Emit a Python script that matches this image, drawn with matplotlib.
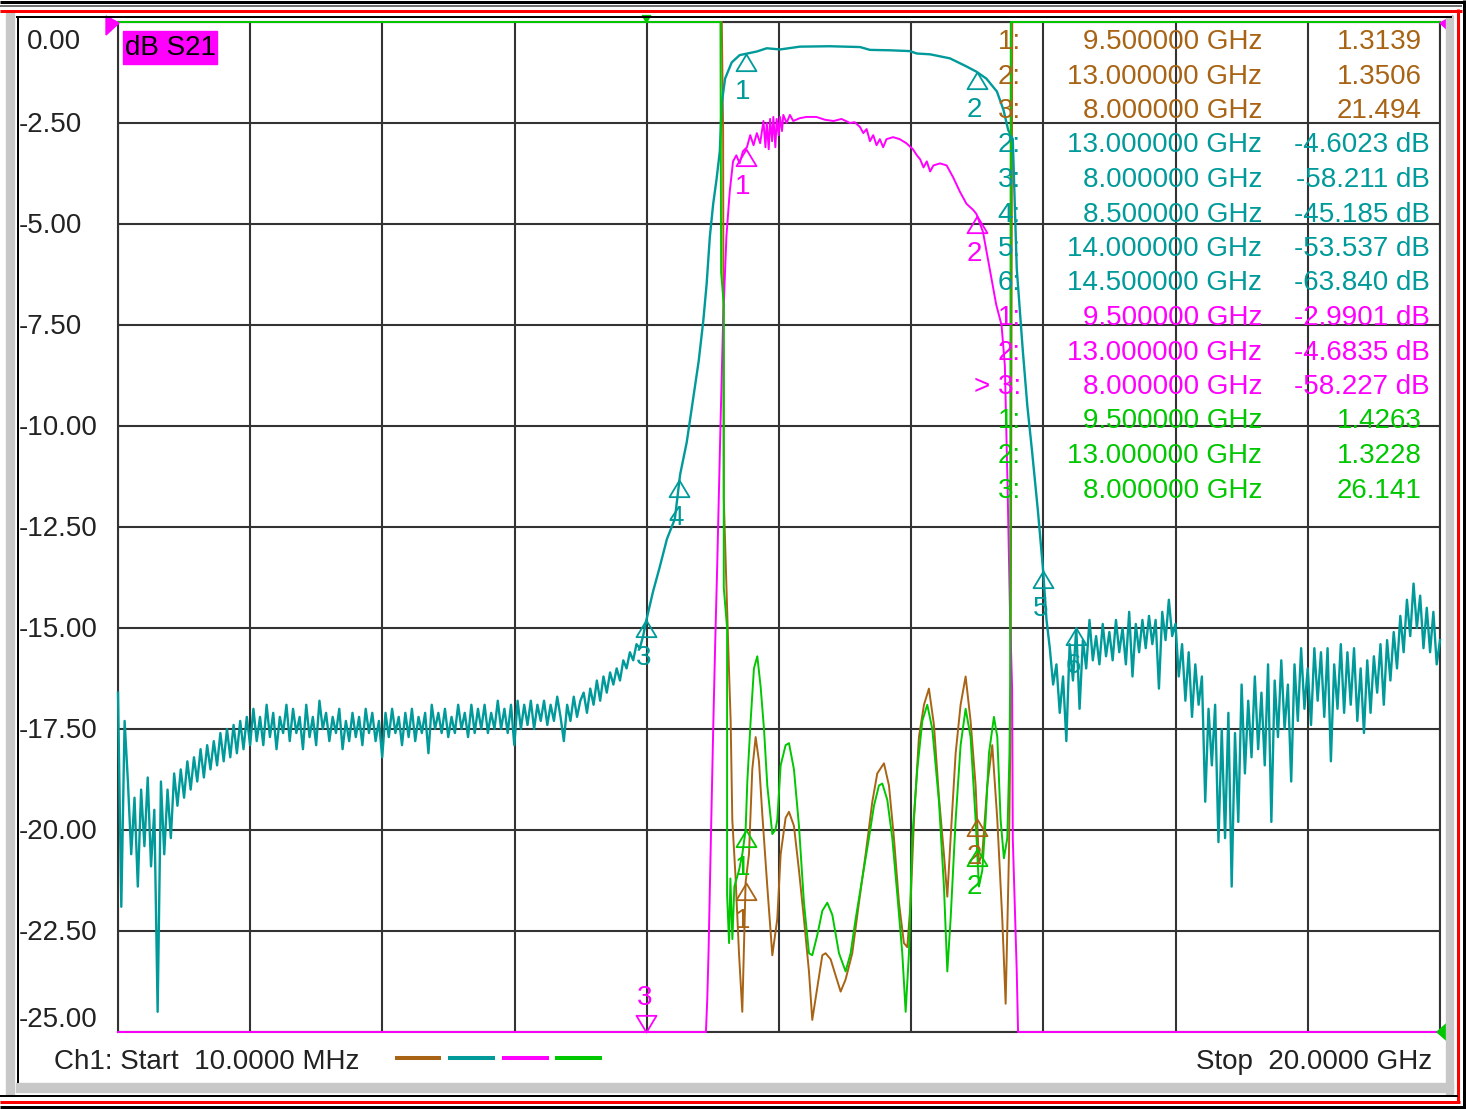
import numpy as np
import matplotlib
matplotlib.use('Agg')
import matplotlib.pyplot as plt
from matplotlib.path import Path
from matplotlib.patches import Rectangle, Polygon
from matplotlib.transforms import offset_copy

plt.rcParams['font.family'] = ['Liberation Sans', 'DejaVu Sans']

BROWN = '#a86414'
TEAL = '#009a9a'
PINK = '#ff00ff'
GREEN = '#00c800'
GRID = '#333333'
TXT = '#222222'

# sweep 10 MHz .. 20 GHz, everything in dB on the displayed scale (0 .. -25, 2.5/div)
f_start, f_stop = 0.01, 20.0
y_ticks = np.linspace(0, -25, 11)

# teal trace (S21 wide)
teal_left_f = np.linspace(0.01, 8.0, 161)
teal_left_db = [
    -16.6, -21.9, -17.3, -18.8, -20.6, -19.2, -21.4, -19.0, -20.4, -18.7,
    -20.9, -19.5, -24.5, -18.8, -20.6, -19.0, -20.2, -18.6, -19.4, -18.5,
    -19.2, -18.3, -19.0, -18.2, -18.8, -18.0, -18.7, -17.9, -18.5, -17.8,
    -18.4, -17.6, -18.3, -17.5, -18.2, -17.4, -18.1, -17.3, -18.0, -17.2,
    -17.9, -17.0, -17.8, -17.2, -17.9, -16.9, -17.7, -17.1, -18.0, -17.2,
    -17.6, -16.9, -17.8, -17.0, -17.6, -17.2, -18.0, -16.9, -17.7, -17.2,
    -17.9, -16.8, -17.5, -17.1, -17.8, -17.2, -17.6, -17.0, -18.0, -17.3,
    -17.8, -17.1, -17.7, -17.2, -17.9, -17.0, -17.6, -17.1, -17.8, -17.3,
    -18.2, -17.1, -17.7, -17.0, -17.6, -17.2, -17.9, -17.1, -17.7, -17.0,
    -17.8, -17.2, -17.6, -17.1, -18.1, -16.9, -17.5, -17.1, -17.6, -17.0,
    -17.7, -17.2, -17.6, -16.9, -17.5, -17.1, -17.7, -16.9, -17.6, -17.0,
    -17.5, -16.9, -17.6, -17.1, -17.5, -16.8, -17.5, -17.0, -17.6, -16.9,
    -17.9, -16.8, -17.5, -16.9, -17.4, -16.8, -17.5, -16.9, -17.3, -16.8,
    -17.4, -16.9, -17.3, -16.7, -17.2, -17.8, -16.9, -17.3, -16.7, -17.2,
    -16.8, -16.6, -17.1, -16.5, -16.9, -16.3, -16.8, -16.2, -16.6, -16.1,
    -16.4, -16.0, -16.3, -15.8, -16.0, -15.6, -15.8, -15.4, -15.5, -15.2,
    -14.8]
teal_mid_f = [8.10, 8.20, 8.31, 8.43, 8.51, 8.61, 8.70, 8.79, 8.86, 8.91,
              8.96, 9.01, 9.06, 9.11, 9.14, 9.19, 9.29, 9.41, 9.67, 9.82,
              10.02, 10.32, 10.77, 11.23, 11.38, 11.68, 11.98, 12.09, 12.29, 12.59,
              12.84, 12.99, 13.14, 13.30, 13.40, 13.47, 13.54, 13.57, 13.60, 13.69,
              13.76, 13.83, 13.92, 14.00, 14.05]
teal_mid_db = [-14.1, -13.5, -12.8, -12.3, -11.2, -10.4, -9.4, -8.4, -7.4, -6.5,
               -5.3, -4.5, -3.9, -3.2, -2.0, -1.4, -1.0, -0.82, -0.73, -0.65,
               -0.68, -0.61, -0.6, -0.62, -0.69, -0.7, -0.72, -0.78, -0.8, -0.9,
               -1.1, -1.23, -1.4, -1.72, -2.18, -2.67, -2.9, -4.5, -6.1, -8.1,
               -9.5, -10.6, -12.1, -13.6, -14.8]
teal_right_f = np.linspace(14.1, 20.0, 119)
teal_right_db = [
    -15.5, -16.4, -15.9, -17.1, -16.2, -17.8, -15.4, -16.3, -15.0, -17.0,
    -15.3, -16.0, -14.8, -15.8, -15.2, -15.9, -14.9, -15.7, -15.1, -15.8,
    -14.8, -15.6, -15.0, -15.9, -14.6, -16.2, -14.9, -15.6, -14.8, -15.5,
    -14.7, -15.4, -14.8, -16.5, -14.6, -15.3, -14.3, -15.2, -14.9, -16.2,
    -15.4, -16.8, -15.6, -17.2, -15.9, -16.9, -16.2, -19.3, -17.0, -18.4,
    -16.9, -20.3, -17.5, -20.2, -17.1, -21.4, -17.6, -19.8, -16.4, -18.6,
    -16.8, -18.2, -16.2, -18.0, -16.6, -18.4, -15.9, -19.8, -16.3, -17.7,
    -15.8, -17.5, -16.4, -18.8, -15.9, -17.3, -15.5, -17.0, -16.0, -17.4,
    -15.5, -16.8, -15.6, -17.2, -15.5, -18.3, -15.9, -17.0, -15.4, -17.1,
    -15.6, -16.9, -15.5, -17.3, -16.0, -17.6, -15.8, -17.1, -15.7, -16.6,
    -15.4, -16.9, -15.3, -16.3, -15.1, -16.0, -14.7, -15.6, -14.3, -15.2,
    -13.9, -15.0, -14.2, -15.5, -14.5, -15.6, -14.6, -15.9, -15.3]

# pink trace (S21 narrow), bottom of screen = clipped at -25
pink_f = [0.01, 8.90, 8.92, 8.94, 8.96, 9.01, 9.04, 9.07, 9.12, 9.16,
          9.21, 9.26, 9.31, 9.36, 9.41, 9.46, 9.52, 9.57, 9.62, 9.67,
          9.72, 9.77, 9.80, 9.82, 9.85, 9.87, 9.90, 9.92, 9.95, 9.97,
          10.00, 10.02, 10.05, 10.07, 10.12, 10.17, 10.22, 10.32, 10.42, 10.57,
          10.70, 10.83, 10.95, 11.08, 11.15, 11.23, 11.28, 11.33, 11.38, 11.43,
          11.48, 11.53, 11.58, 11.63, 11.73, 11.83, 11.93, 12.03, 12.09, 12.14,
          12.19, 12.24, 12.29, 12.34, 12.44, 12.54, 12.64, 12.74, 12.84, 12.94,
          12.99, 13.09, 13.19, 13.29, 13.37, 13.42, 13.46, 13.50, 13.53, 13.54,
          13.60, 13.62, 20.0]
pink_db = [-25.0, -25.0, -24.2, -23.0, -21.4, -17.5, -15.4, -13.5, -10.0, -7.4,
           -5.3, -4.2, -3.45, -3.3, -3.5, -3.2, -3.1, -2.8, -3.05, -2.75,
           -3.0, -2.45, -3.1, -2.5, -3.15, -2.4, -2.95, -2.35, -3.1, -2.4,
           -2.8, -2.35, -2.7, -2.3, -2.5, -2.3, -2.45, -2.38, -2.35, -2.35,
           -2.42, -2.45, -2.4, -2.5, -2.48, -2.6, -2.75, -2.65, -2.95, -2.8,
           -3.05, -2.9, -3.1, -2.9, -2.85, -2.9, -3.0, -3.15, -3.3, -3.4,
           -3.6, -3.45, -3.7, -3.55, -3.5, -3.55, -3.85, -4.2, -4.5, -4.65,
           -4.75, -5.2, -6.1, -7.0, -7.5, -8.5, -11.4, -14.8, -16.5, -20.2,
           -23.5, -25.0, -25.0]

# green trace (SWR), top of screen = clipped at 0
green_f = [0.01, 9.12, 9.13, 9.17, 9.17, 9.22, 9.22, 9.25, 9.27, 9.30,
           9.33, 9.40, 9.45, 9.50, 9.526, 9.576, 9.626, 9.677, 9.727, 9.778,
           9.828, 9.904, 9.95, 9.979, 10.03, 10.105, 10.156, 10.231, 10.307, 10.382,
           10.458, 10.508, 10.584, 10.66, 10.735, 10.811, 10.912, 11.012, 11.088, 11.164,
           11.264, 11.365, 11.441, 11.516, 11.567, 11.642, 11.718, 11.794, 11.869, 11.92,
           11.97, 12.02, 12.096, 12.172, 12.247, 12.323, 12.424, 12.499, 12.55, 12.6,
           12.676, 12.751, 12.827, 12.902, 12.978, 13.028, 13.079, 13.129, 13.18, 13.255,
           13.306, 13.356, 13.406, 13.457, 13.49, 13.50, 13.51, 20.0]
green_db = [0.0, 0.0, -6.2, -7.0, -14.0, -15.0, -21.6, -22.8, -21.2, -22.7,
            -21.4, -21.0, -20.6, -20.0, -18.8, -17.3, -16.0, -15.7, -16.45, -17.5,
            -18.9, -20.1, -20.0, -19.75, -18.4, -17.9, -17.85, -18.5, -19.9, -21.8,
            -23.05, -23.1, -22.6, -22.0, -21.8, -22.1, -23.05, -23.5, -23.05, -22.2,
            -21.2, -20.2, -19.4, -18.9, -18.85, -19.25, -20.2, -21.6, -23.05, -24.5,
            -23.05, -20.2, -18.5, -17.3, -16.9, -17.5, -19.3, -21.4, -23.5, -22.2,
            -19.75, -17.9, -17.0, -17.7, -19.75, -21.4, -21.0, -19.75, -18.1, -17.2,
            -17.7, -19.75, -20.7, -20.2, -18.1, -16.4, 0.0, 0.0]

# brown trace (SWR)
brown_f = [0.01, 9.14, 9.16, 9.17, 9.22, 9.248, 9.274, 9.299, 9.349, 9.40,
           9.45, 9.50, 9.551, 9.601, 9.652, 9.702, 9.752, 9.828, 9.904, 9.979,
           10.03, 10.105, 10.156, 10.231, 10.307, 10.382, 10.458, 10.508, 10.584, 10.66,
           10.71, 10.786, 10.861, 10.937, 11.012, 11.113, 11.214, 11.315, 11.416, 11.491,
           11.592, 11.668, 11.743, 11.819, 11.894, 11.945, 11.995, 12.046, 12.121, 12.197,
           12.272, 12.348, 12.424, 12.499, 12.55, 12.6, 12.676, 12.751, 12.827, 12.902,
           12.978, 13.028, 13.079, 13.154, 13.23, 13.306, 13.381, 13.432, 13.482, 13.507,
           13.532, 20.0]
brown_db = [0.0, 0.0, -2.7, -11.8, -14.5, -16.0, -17.3, -19.75, -21.2, -23.05,
            -24.5, -21.3, -20.6, -18.5, -17.7, -18.3, -19.6, -21.4, -23.1, -22.2,
            -20.6, -19.7, -19.55, -19.9, -21.0, -22.2, -23.5, -24.7, -23.9, -23.1,
            -23.05, -23.2, -23.6, -24.0, -23.7, -23.05, -21.8, -20.6, -19.3, -18.6,
            -18.35, -18.9, -20.2, -21.8, -22.8, -22.9, -21.8, -19.75, -17.7, -16.9,
            -16.5, -17.4, -19.2, -20.6, -21.65, -20.2, -18.1, -16.9, -16.2, -17.3,
            -18.9, -20.8, -20.6, -18.9, -17.9, -19.75, -22.2, -24.3, -20.6, -17.3,
            0.0, 0.0]

# markers shown on the traces
mk_teal = [9.5, 13.0, 8.0, 8.5, 14.0, 14.5]
mk_pink = [9.5, 13.0, 8.0]
mk_green = [9.5, 13.0]
mk_brown = [9.5, 13.0]

# marker readout table
tab_brown_no = ['1:', '2:', '3:']
tab_brown_f = [9.5, 13.0, 8.0]
tab_brown_val = ['1.3139', '1.3506', '21.494']
tab_teal_no = ['2:', '3:', '4:', '5:', '6:']
tab_teal_f = [13.0, 8.0, 8.5, 14.0, 14.5]
tab_teal_val = ['-4.6023 dB', '-58.211 dB', '-45.185 dB', '-53.537 dB', '-63.840 dB']
tab_pink_no = ['1:', '2:', '> 3:']
tab_pink_f = [9.5, 13.0, 8.0]
tab_pink_val = ['-2.9901 dB', '-4.6835 dB', '-58.227 dB']
tab_green_no = ['1:', '2:', '3:']
tab_green_f = [9.5, 13.0, 8.0]
tab_green_val = ['1.4263', '1.3228', '26.141']

W, H = 1466, 1109
FS = 20

fig = plt.figure(figsize=(W / 100, H / 100), dpi=100, facecolor='white')
ax = fig.add_axes([118 / W, 1 - 1032 / H, 1322 / W, 1010 / H])
bg = fig.add_axes([0, 0, 1, 1])
ax.set_zorder(1)
bg.set_zorder(2)
bg.patch.set_visible(False)
bg.axis('off')
bg.set_xlim(0, W)
bg.set_ylim(H, 0)
bg.set_autoscale_on(False)

# plot area
ax.set_xlim(f_start, f_stop)
ax.set_ylim(-25, 0)
ax.set_xticks(np.linspace(f_start, f_stop, 11))
ax.set_yticks(y_ticks)
ax.tick_params(length=0, labelbottom=False, labelleft=False)
ax.grid(True, color=GRID, lw=1.5)
ax.set_axisbelow(True)
for s in ax.spines.values():
    s.set_color(GRID)
    s.set_linewidth(1.5)

teal_f = np.concatenate([teal_left_f, teal_mid_f, teal_right_f])
teal_db = np.concatenate([teal_left_db, teal_mid_db, teal_right_db])

ax.plot(brown_f, brown_db, color=BROWN, lw=1.4, clip_on=False, zorder=3)
ax.plot(teal_f, teal_db, color=TEAL, lw=1.7, clip_on=False, zorder=4)
ax.plot(pink_f, pink_db, color=PINK, lw=1.4, clip_on=False, zorder=5)
ax.plot(green_f, green_db, color=GREEN, lw=1.4, clip_on=False, zorder=6)

# marker triangles: apex on the trace
tri_below = Path([(0, 0), (0.6, -1), (-0.6, -1), (0, 0)],
                 [Path.MOVETO, Path.LINETO, Path.LINETO, Path.CLOSEPOLY])
tri_above = Path([(0, 0), (0.6, 1), (-0.6, 1), (0, 0)],
                 [Path.MOVETO, Path.LINETO, Path.LINETO, Path.CLOSEPOLY])
lab_below = offset_copy(ax.transData, fig=fig, x=-3, y=-38, units='dots')
lab_above = offset_copy(ax.transData, fig=fig, x=-2, y=34, units='dots')


def draw_markers(freqs, tf, tdb, color, z):
    for i, f in enumerate(freqs):
        v = np.interp(f, tf, tdb)
        at_bottom = v <= -24.9
        ax.plot([f], [v], marker=tri_above if at_bottom else tri_below, ms=24,
                mfc='none', mec=color, mew=1.3, ls='none', clip_on=False, zorder=z)
        ax.text(f, v, str(i + 1), color=color, fontsize=FS, ha='center', va='center',
                transform=lab_above if at_bottom else lab_below, zorder=z)


draw_markers(mk_brown, brown_f, brown_db, BROWN, 7)
draw_markers(mk_teal, teal_f, teal_db, TEAL, 7)
draw_markers(mk_pink, pink_f, pink_db, PINK, 7)
draw_markers(mk_green, green_f, green_db, GREEN, 7)
# off-scale marker 3 of the SWR traces sits on the top edge
ax.plot([8.0], [0.0], marker=tri_above, ms=10, mfc=GREEN, mec=GREEN, ls='none',
        clip_on=False, zorder=8)

# y scale labels
for v in y_ticks:
    dy = -20 if v == 0 else (12 if v == -25 else -2)
    tr = offset_copy(ax.get_yaxis_transform(), fig=fig, x=0, y=dy, units='dots')
    xa = ((19 if v < 0 else 27) - 118) / 1322
    ax.text(xa, v, f'{v:.2f}', transform=tr, ha='left', va='center',
            fontsize=FS, color=TXT)

# marker readout table
rows = []
for nos, fs, vals, c in [(tab_brown_no, tab_brown_f, tab_brown_val, BROWN),
                         (tab_teal_no, tab_teal_f, tab_teal_val, TEAL),
                         (tab_pink_no, tab_pink_f, tab_pink_val, PINK),
                         (tab_green_no, tab_green_f, tab_green_val, GREEN)]:
    for n, f, v in zip(nos, fs, vals):
        rows.append((n, f, v, c))
for i, (n, f, v, c) in enumerate(rows):
    y = 42 + 34.5 * i
    bg.text(1021, y, n, ha='right', va='center', fontsize=FS, color=c)
    bg.text(1262, y, f'{f:.6f} GHz', ha='right', va='center', fontsize=FS, color=c)
    bg.text(1430 if v.endswith('dB') else 1422, y, v, ha='right', va='center',
            fontsize=FS, color=c)

# format label
bg.add_patch(Rectangle((123, 31), 94, 33, color=PINK, zorder=3))
bg.text(125, 48, 'dB S21', ha='left', va='center', fontsize=FS, color='black', zorder=4)

# reference arrows
bg.add_patch(Polygon([(106, 16), (119, 23), (106, 35)], color=PINK))
bg.add_patch(Polygon([(1453, 16), (1440, 23), (1453, 35)], color=PINK))
bg.add_patch(Polygon([(1453, 1018), (1437, 1032), (1453, 1046)], color=GREEN))

# footer
bg.text(54, 1062, 'Ch1: Start  10.0000 MHz', ha='left', va='center', fontsize=FS, color=TXT)
bg.text(1432, 1062, 'Stop  20.0000 GHz', ha='right', va='center', fontsize=FS, color=TXT)
for (x0, x1), c in zip([(395, 441), (448, 495), (502, 549), (555, 602)],
                       [BROWN, TEAL, PINK, GREEN]):
    bg.plot([x0, x1], [1058, 1058], color=c, lw=2.9, solid_capstyle='butt')

# window frame
def hline(y, x0, x1, c, px):
    bg.plot([x0, x1], [y, y], color=c, lw=px * 0.72, solid_capstyle='butt')


def vline(x, y0, y1, c, px):
    bg.plot([x, x], [y0, y1], color=c, lw=px * 0.72, solid_capstyle='butt')


bg.add_patch(Rectangle((6, 13), 8, 1081, color='#c8c8c8'))
bg.add_patch(Rectangle((1446, 16), 7, 1078, color='#c8c8c8'))
bg.add_patch(Rectangle((16, 1083), 1437, 9, color='#c8c8c8'))
hline(1.5, 0, W, 'black', 3)
hline(6, 0, 1462, '#707070', 2)
hline(10.5, 0, 1462, 'red', 3)
hline(16.5, 16, 1452, 'black', 2)
vline(17.5, 16, 1083, 'black', 2)
vline(1458, 9, 1103, 'red', 3)
vline(1463.5, 0, H, 'black', 3)
hline(1096, 0, 1458, 'black', 2)
hline(1101.5, 0, 1460, 'red', 3)
hline(1107, 0, W, 'black', 3)

fig.savefig('out.png', dpi=100)
